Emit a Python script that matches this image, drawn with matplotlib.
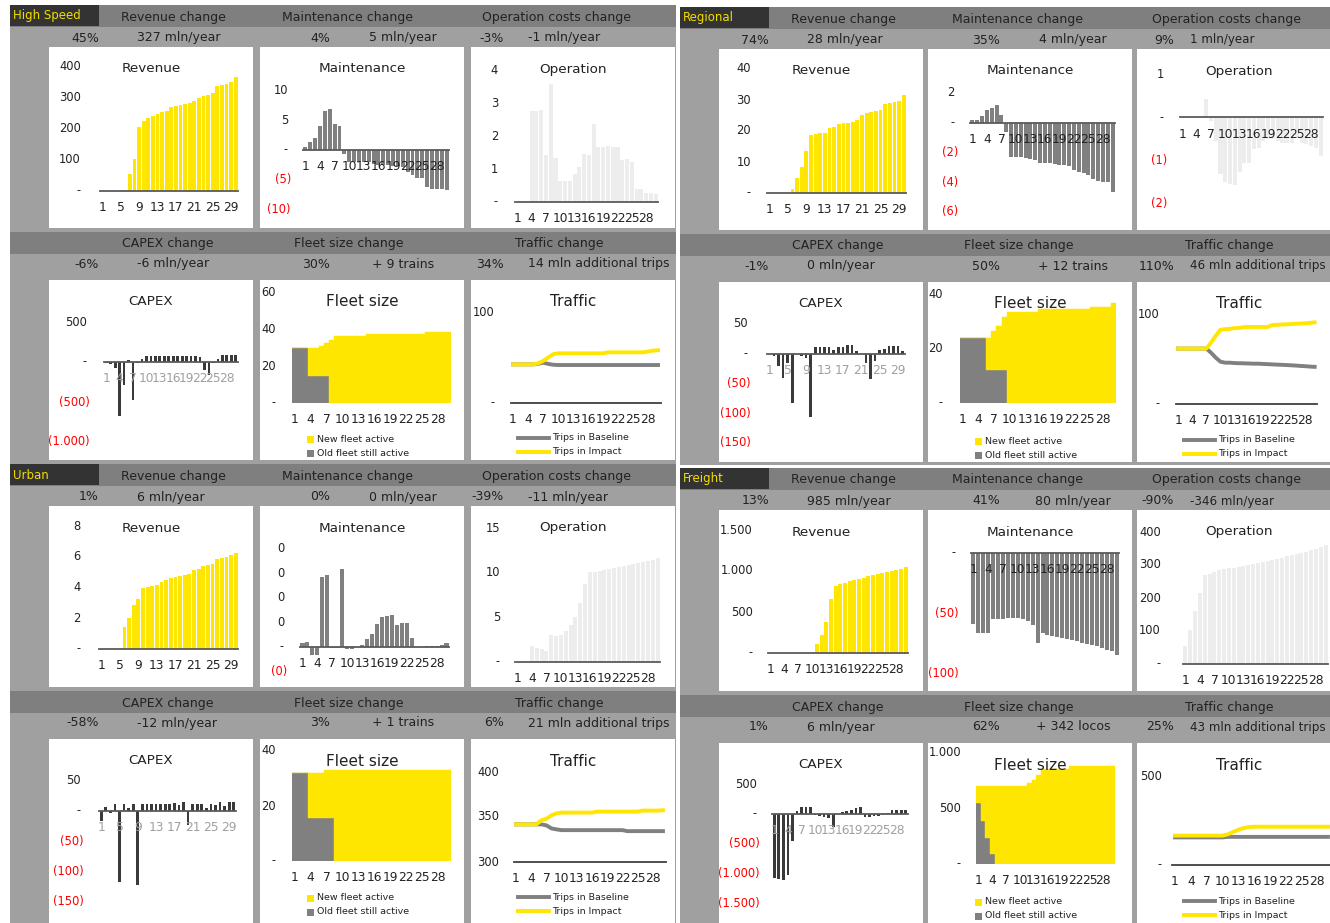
import numpy as np
import matplotlib.pyplot as plt
from matplotlib import transforms
from matplotlib.patches import Rectangle

W, H = 1330, 923
YELLOW = '#FFE600'
MID = '#808080'
LIGHT = '#EDEDED'
DARK = '#3A3A3A'
BG = '#A0A0A0'
HEAD = '#7F7F7F'
TXT = '#222222'
RED = '#FF0000'

years = np.arange(1, 31)

# ---- High Speed ----
hs_rev = [0, 0, 0, 0, 0, 3, 55, 103, 206, 223, 235, 239, 248, 252, 255, 268, 271, 274, 277, 281,
          287, 297, 303, 306, 313, 335, 339, 342, 348, 365]
hs_maint = [0.45, 1.4, 2.0, 4.05, 6.55, 6.8, 4.4, 4.05, -0.67, -2.05, -2.05, -2.05, -2.05, -2.05, -2.3,
            -2.5, -2.5, -2.5, -2.6, -2.7, -2.9, -3.7, -4.2, -4.7, -4.7, -6.2, -6.5, -6.5, -6.5, -6.7]
hs_oper = [0, 0, 0, 2.77, 2.79, 2.82, 1.45, 3.59, 1.35, 0.65, 0.65, 0.65, 0.84, 1.07, 1.48, 1.43, 2.38,
           1.68, 1.68, 1.71, 1.68, 1.68, 1.28, 1.32, 1.22, 0.39, 0.39, 0.29, 0.29, 0.25]
hs_capex = [-10, -20, -70, -680, -283, 20, -470, -10, 40, 75, 75, 75, 75, 75, 70, 75, 75, 75, 75, 75,
            75, 60, -104, -167, -10, 42, 92, 92, 92, 92]
hs_fleet_old = [30, 30, 30, 15, 15, 15, 15] + [0] * 23
hs_fleet_total = [30, 30, 30, 30, 30, 31, 32.5, 34.5, 36.3, 36.3, 36.3, 36.3, 36.3, 36.3] + [37.8] * 11 + [38.7] * 5
hs_trips_base = [42.9] * 5 + [43.5, 44.8, 43.5, 42.5] + [42.2] * 21
hs_trips_imp = [42.9] * 5 + [44, 46.6, 50.4, 54.1, 55.2] + [55.2] * 9 + [56.3] * 8 + [57.2, 58.2, 58.6]

# ---- Regional ----
rg_rev = [0, 0, 0, 0, 0, 1.2, 4.7, 8.3, 13.5, 18.6, 19.1, 19.5, 19.5, 21.1, 21.3, 22.4, 22.7, 22.7,
          22.9, 23.5, 25.3, 25.7, 26.0, 26.4, 26.7, 28.6, 28.9, 29.2, 29.7, 31.6]
rg_maint = [0.17, 0.2, 0.43, 0.87, 0.98, 1.2, 0.5, -0.65, -2.28, -2.28, -2.32, -2.4, -2.45, -2.5, -2.7,
            -2.72, -2.72, -2.75, -2.83, -2.87, -2.93, -3.2, -3.3, -3.35, -3.48, -3.8, -3.9, -3.98, -4.0, -4.67]
rg_oper = [0, 0, 0, 0, 0, 0.42, -0.08, -0.55, -1.3, -1.5, -1.53, -1.55, -1.27, -1.05, -1.05, -0.72, -0.7,
           -0.55, -0.5, -0.5, -0.55, -0.6, -0.6, -0.6, -0.45, -0.6, -0.62, -0.65, -0.7, -0.9]
rg_capex = [-1, -4, -20, -40, -15, -82, 0, -3, -7, -107, 12, 12, 12, 12, 6, 12, 12, 14, 14, 4,
            0, -15, -42, -12, 6, 8, 13, 13, 13, 4]
rg_fleet_old = [24] * 5 + [12] * 4 + [0] * 21
rg_fleet_total = [24] * 6 + [26.3, 28.1, 31.5] + [33.4] * 6 + [34.4] * 10 + [35.4] * 4 + [36.6]
rg_trips_base = [61.6] * 7 + [57, 51.5, 47, 45.9, 45.9, 45.5, 45.3, 45.2, 45, 44.8, 44.8, 44.5, 44.3,
                              44, 43.8, 43.5, 43.3, 43, 42.7, 42.3, 42, 41.6, 41.3]
rg_trips_imp = [61.6] * 7 + [68.3, 75.7, 82.5, 83.2, 83.5, 84.3, 84.6, 85.4, 85.6, 85.6, 85.6, 85.6,
                             85.6, 87.7, 88, 88.3, 88.5, 88.8, 89.1, 89.4, 89.6, 90.1, 90.7]

# ---- Urban ----
ur_rev = [0, 0, 0, 0, 0, 1.46, 2.04, 2.86, 3.23, 3.98, 4.04, 4.1, 4.15, 4.37, 4.47, 4.65, 4.69, 4.75,
          4.84, 4.9, 5.12, 5.18, 5.38, 5.44, 5.55, 5.83, 5.91, 5.98, 6.09, 6.26]
ur_maint = [0.014, 0.018, -0.035, -0.035, 0.285, 0.292, -0.007, -0.004, 0.32, -0.01, -0.01, 0, 0.007,
            0.03, 0.053, 0.094, 0.12, 0.125, 0.13, 0.0875, 0.096, 0.096, 0.035, 0, 0, 0.004, 0.004,
            0.004, 0.008, 0.014]
ur_oper = [0, 0, 0, 1.78, 1.6, 1.4, 1.22, 3.0, 2.96, 3.07, 3.44, 4.19, 5.04, 6.6, 8.74, 10.04, 10.1,
           10.19, 10.3, 10.4, 10.55, 10.67, 10.78, 10.85, 11.0, 11.1, 11.22, 11.33, 11.44, 11.6]
ur_capex = [-17, 7, -3, 11, -118, 11, 5, 11, -124, 12, 12, 12, 12, 12, 12, 12, 14, 10, 15, -23,
            12, 12, 12, 5, 12, 10, 15, 8, 15, 15]
ur_fleet_old = [32] * 3 + [15.7] * 5 + [0] * 22
ur_fleet_total = [32] * 6 + [33] * 24
ur_trips_base = [341.8] * 6 + [340.7, 337.3, 336.2] + [335.4] * 13 + [334.3] * 8
ur_trips_imp = [341.8] * 5 + [346.3, 348.1, 351.9, 354.1] + [354.9] * 7 + [356] * 9 + [357.1] * 4 + [357.5]

# ---- Freight ----
fr_rev = [0] * 10 + [110, 215, 378, 658, 813, 841, 854, 874, 894, 906, 915, 935, 955, 967, 976, 984,
                     996, 1008, 1024, 1045]
fr_maint = [-59, -67, -67, -67, -55, -55, -55, -54.5, -54.5, -54.5, -55, -56.4, -60, -75.3, -66.7, -68,
            -69, -69.7, -70.8, -71.7, -72.5, -73.6, -75, -75.8, -76.7, -77.8, -79.4, -80.8, -82, -84.7]
fr_oper = [54, 104, 160, 216, 269, 274, 278, 284, 287, 290, 292, 295, 297, 300, 302, 305, 309, 312,
           315, 319, 322, 327, 330, 332, 337, 340, 344, 349, 354, 362]
fr_capex = [-1073, -1090, -1112, -1034, -455, 45, 118, 118, 118, -17, -34, -51, -73, -230, -5, 34, 45,
            62, 90, 118, -51, -51, -40, -34, -17, 10, 62, 62, 62, 62]
fr_fleet_old = [549, 387, 235, 91] + [0] * 26
fr_fleet_total = [701] * 10 + [707, 729, 753, 800] + [860] * 6 + [884] * 10
fr_trips_base = [155] * 10 + [158] * 20
fr_trips_imp = [165] * 10 + [172, 185, 198, 207, 213] + [215] * 15

# headline figures per segment: (percent, amount) for the six panels
hs_kpi = [('45%', '327 mln/year'), ('4%', '5 mln/year'), ('-3%', '-1 mln/year'),
          ('-6%', '-6 mln/year'), ('30%', '+ 9 trains'), ('34%', '14 mln additional trips')]
rg_kpi = [('74%', '28 mln/year'), ('35%', '4 mln/year'), ('9%', '1 mln/year'),
          ('-1%', '0 mln/year'), ('50%', '+ 12 trains'), ('110%', '46 mln additional trips')]
ur_kpi = [('1%', '6 mln/year'), ('0%', '0 mln/year'), ('-39%', '-11 mln/year'),
          ('-58%', '-12 mln/year'), ('3%', '+ 1 trains'), ('6%', '21 mln additional trips')]
fr_kpi = [('13%', '985 mln/year'), ('41%', '80 mln/year'), ('-90%', '-346 mln/year'),
          ('1%', '6 mln/year'), ('62%', '+ 342 locos'), ('25%', '43 mln additional trips')]

headers = ['Revenue change', 'Maintenance change', 'Operation costs change',
           'CAPEX change', 'Fleet size change', 'Traffic change']
titles = ['Revenue', 'Maintenance', 'Operation', 'CAPEX', 'Fleet size', 'Traffic']

# y ticks per panel
hs_ticks = [[0, 100, 200, 300, 400], [-10, -5, 0, 5, 10], [0, 1, 2, 3, 4],
            [-1000, -500, 0, 500], [0, 20, 40, 60], [0, 100]]
rg_ticks = [[0, 10, 20, 30, 40], [-6, -4, -2, 0, 2], [-2, -1, 0, 1],
            [-150, -100, -50, 0, 50], [0, 20, 40], [0, 100]]
ur_ticks = [[0, 2, 4, 6, 8], [-0.1, 0, 0.1, 0.2, 0.3, 0.4], [0, 5, 10, 15],
            [-150, -100, -50, 0, 50], [0, 20, 40], [300, 350, 400]]
fr_ticks = [[0, 500, 1000, 1500], [-100, -50, 0], [0, 100, 200, 300, 400],
            [-1500, -1000, -500, 0, 500], [0, 500, 1000], [0, 500]]

fig = plt.figure(figsize=(W / 100, H / 100), dpi=100)
bg = fig.add_axes([0, 0, 1, 1])
bg.set_xlim(0, W)
bg.set_ylim(H, 0)
bg.axis('off')


def ftext(x, y, s, **kw):
    kw.setdefault('color', TXT)
    return fig.text(x / W, 1 - y / H, s, **kw)


def acct(v):
    # accounting style: "-" for zero, red brackets for negatives, dot thousands
    if abs(v) < 1e-9:
        return '-'
    s = f'{abs(v):,.0f}'.replace(',', '.')
    return f'({s})' if v < 0 else s


def panel(bx, by, ticks, title, plot_y, plot_x, lab, step, xcolor=TXT, big=False):
    lo, hi = min(ticks), max(ticks)
    top, bot = plot_y
    x0, x1 = plot_x
    ax = fig.add_axes([(bx + x0) / W, 1 - (by + bot) / H, (x1 - x0) / W, (bot - top) / H])
    ax.patch.set_alpha(0)
    ax.set_xlim(0.5, 30.5)
    ax.set_ylim(lo, hi)
    for s in ('top', 'right', 'left'):
        ax.spines[s].set_visible(False)
    ax.spines['bottom'].set_position(('data', max(lo, 0)))
    ax.spines['bottom'].set_color('#5A5A5A')
    ax.spines['bottom'].set_linewidth(1.3)
    ax.set_yticks([])
    ax.set_xticks(years[::step])
    ax.tick_params(axis='x', length=0, pad=7.5, labelsize=8.8, labelcolor=xcolor)
    base = transforms.blended_transform_factory(ax.transAxes, ax.transData)
    for t in ticks:
        dx = lab - x0 + (3 if t < 0 else 0)
        tr = transforms.offset_copy(base, fig=fig, x=dx, y=0, units='dots')
        ax.text(0, t, acct(t), transform=tr, ha='right', va='center', fontsize=8.3,
                color=RED if t < 0 else TXT, clip_on=False)
    ftext(bx + 102, by + 22, title, ha='center', va='center', fontsize=11 if big else 9.7, zorder=5)
    return ax


def segment(name, qx, qy, qh, cols, kpi, ticks, rev, maint, oper, capex, f_old, f_tot,
            t_base, t_imp, geo):
    right = qx > 600
    qw = W - qx if right else 676 - qx
    bg.add_patch(Rectangle((qx, qy), qw, qh, color=BG, lw=0))
    bg.add_patch(Rectangle((qx, qy), qw, 22, color=HEAD, lw=0))
    bg.add_patch(Rectangle((qx, qy + 227), qw, 22, color=HEAD, lw=0))
    bg.add_patch(Rectangle((qx, qy), 89, 21, color='#333333', lw=0))
    ftext(qx + 3, qy + 11, name, ha='left', va='center', fontsize=8.5, color='#F2DD00')

    for i in range(6):
        row, c = divmod(i, 3)
        hy = qy + (12 if row == 0 else 239)
        vy = qy + (33 if row == 0 else 259)
        ftext(qx + [163, 337, 546, 158, 339, 549][i], hy, headers[i], ha='center', va='center', fontsize=9)
        pct, amt = kpi[i]
        ftext(qx + [89, 320, 494][c], vy, pct, ha='right', va='center', fontsize=9)
        if c == 0:
            ftext(qx + 127, vy, amt, ha='left', va='center', fontsize=9)
        elif c == 1:
            ftext(qx + 393, vy, amt, ha='center', va='center', fontsize=9)
        elif right:
            ftext(qx + 510, vy, amt, ha='left', va='center', fontsize=8.6)
        else:
            ftext(qx + 518, vy, amt, ha='left', va='center', fontsize=9)

        bx = qx + cols[c]
        by = qy + (42 if row == 0 else 275)
        bh = 181 if row == 0 else 180
        if qy > 400 and row == 1:
            bh = H - by
        bg.add_patch(Rectangle((bx, by), 204, bh, color='white', lw=0))

        g = geo[i]
        xc = '#A0A0A0' if i == 3 else TXT
        ax = panel(bx, by, ticks[i], titles[i], g[0], g[1], g[2], g[3], xcolor=xc, big=i >= 4)

        if i == 0:
            ax.bar(years, rev, width=0.82, color=YELLOW, lw=0)
        elif i == 1:
            ax.bar(years, maint, width=0.82, color=MID, lw=0)
        elif i == 2:
            ax.bar(years, oper, width=0.85, color=LIGHT, lw=0)
        elif i == 3:
            ax.bar(years, capex, width=0.6, color=DARK, lw=0)
        elif i == 4:
            old = np.array(f_old, float)
            new = np.array(f_tot, float) - old
            ax.bar(years, old, width=1.0, color=MID, ec=MID, lw=0.3)
            ax.bar(years, new, bottom=old, width=1.0, color=YELLOW, ec=YELLOW, lw=0.3)
            ax.spines['bottom'].set_visible(False)
            bg.add_patch(Rectangle((bx + 47, by + 155.5), 7, 7, color=YELLOW, lw=0))
            bg.add_patch(Rectangle((bx + 47, by + 169.5), 7, 7, color=MID, lw=0))
            ftext(bx + 57, by + 159, 'New fleet active', va='center', fontsize=6.8)
            ftext(bx + 57, by + 173, 'Old fleet still active', va='center', fontsize=6.8)
        else:
            ax.plot(years, t_base, color=MID, lw=2.8)
            ax.plot(years, t_imp, color=YELLOW, lw=2.8)
            ax.spines['bottom'].set_color('#404040')
            bg.plot([bx + 47, bx + 78], [by + 158, by + 158], color=MID, lw=2.8)
            bg.plot([bx + 47, bx + 78], [by + 172, by + 172], color=YELLOW, lw=2.8)
            ftext(bx + 81, by + 158, 'Trips in Baseline', va='center', fontsize=6.8)
            ftext(bx + 81, by + 172, 'Trips in Impact', va='center', fontsize=6.8)


# panel geometry inside each white box: (y of top/bottom tick), (x of 0.5 / 30.5), label edge, x step
hs_geo = [((19, 144), (51, 189), 32, 4), ((43, 163), (43, 189), 28, 3), ((24, 155), (44, 187), 27, 3),
          ((42, 162), (55, 189), 38, 3), ((13, 123), (32, 191), 16, 3), ((33, 123), (39.5, 189.5), 24, 3)]
rg_geo = [((20, 144), (48, 187), 32, 4), ((44, 163), (42, 187), 27, 3), ((25, 155), (43, 186), 27, 3),
          ((42, 161), (48, 186), 29, 4), ((12, 121), (32, 188), 15, 3), ((32, 122), (38.7, 180), 23, 3)]
ur_geo = [((20, 143), (50, 189), 32, 4), ((43, 165), (40, 189), 24, 3), ((22, 156), (44, 189), 29, 3),
          ((42, 162), (50, 187), 32, 4), ((12, 122), (32, 191), 16, 3), ((33, 123), (42.5, 194.5), 28, 3)]
fr_geo = [((20, 143), (49, 189), 34, 3), ((43, 163), (43, 191), 28, 3), ((22, 154), (46, 191), 24, 3),
          ((41, 160), (53, 189), 38, 3), ((10, 121), (48, 187), 33, 3), ((33, 122), (35.4, 193.6), 25, 3)]

left_cols = (39, 250, 461)
right_cols = (39, 248, 457)

segment('High Speed', 10, 5, 459, left_cols, hs_kpi, hs_ticks, hs_rev, hs_maint, hs_oper, hs_capex,
        hs_fleet_old, hs_fleet_total, hs_trips_base, hs_trips_imp, hs_geo)
segment('Regional', 680, 7, 458, right_cols, rg_kpi, rg_ticks, rg_rev, rg_maint, rg_oper, rg_capex,
        rg_fleet_old, rg_fleet_total, rg_trips_base, rg_trips_imp, rg_geo)
segment('Urban', 10, 464, H - 464, left_cols, ur_kpi, ur_ticks, ur_rev, ur_maint, ur_oper, ur_capex,
        ur_fleet_old, ur_fleet_total, ur_trips_base, ur_trips_imp, ur_geo)
segment('Freight', 680, 468, H - 468, right_cols, fr_kpi, fr_ticks, fr_rev, fr_maint, fr_oper, fr_capex,
        fr_fleet_old, fr_fleet_total, fr_trips_base, fr_trips_imp, fr_geo)

fig.savefig('out.png', dpi=100)
